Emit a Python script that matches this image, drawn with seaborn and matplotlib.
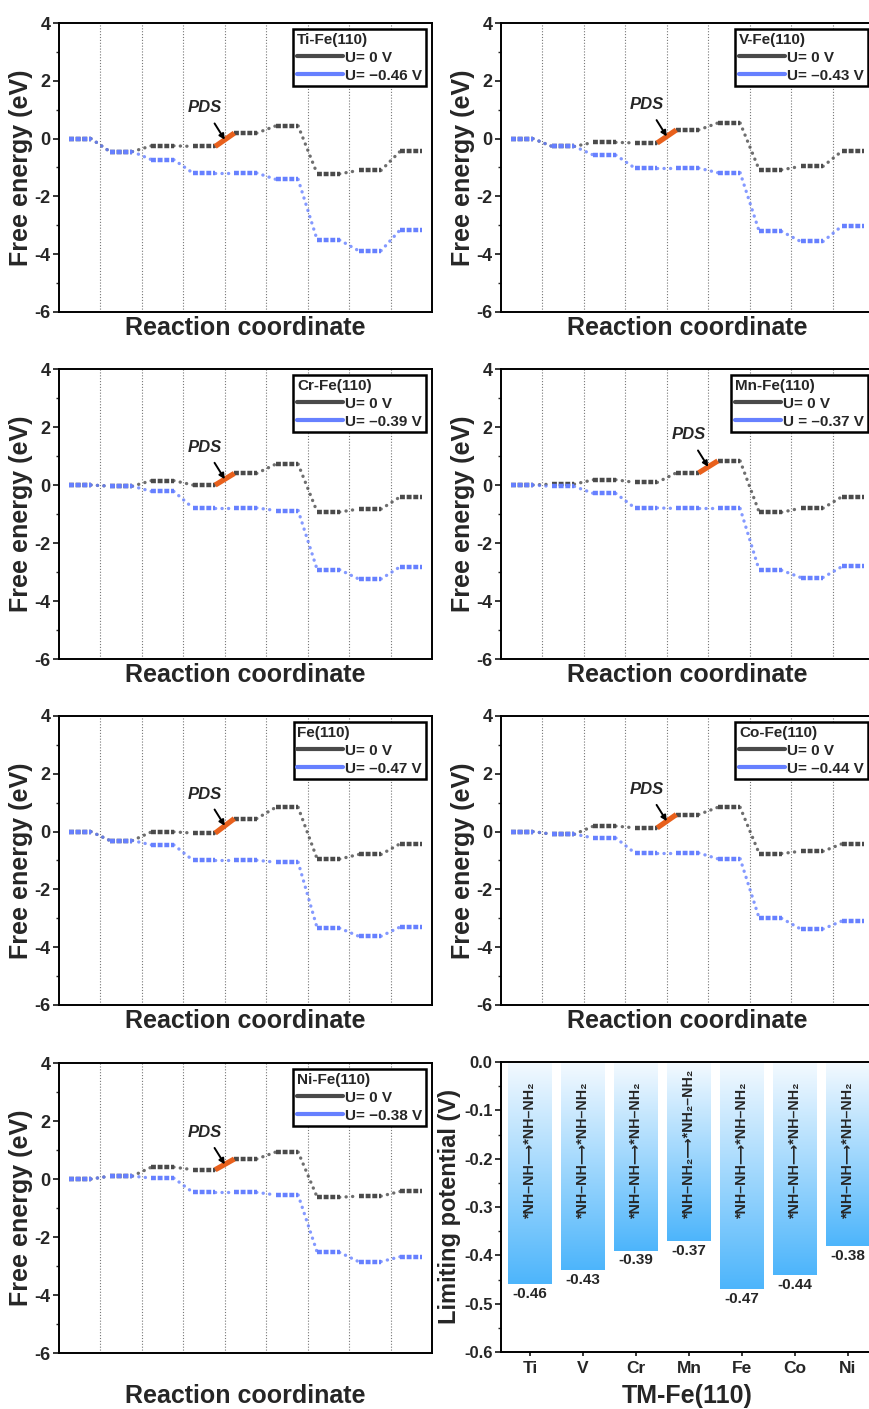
import numpy as np
import pandas as pd
import matplotlib
matplotlib.use("Agg")
import matplotlib.pyplot as plt
import seaborn as sns
from matplotlib.colors import LinearSegmentedColormap
from matplotlib.lines import Line2D
from matplotlib.ticker import MultipleLocator, FormatStrFormatter

# ---------------- data ----------------
steps = list(range(9))

ti_u0 = [0.00, -0.45, -0.25, -0.27, 0.19, 0.44, -1.22, -1.10, -0.44]
ti_ul = [0.00, -0.45, -0.73, -1.19, -1.19, -1.41, -3.51, -3.88, -3.16]
v_u0 = [0.00, -0.27, -0.13, -0.15, 0.30, 0.54, -1.08, -0.96, -0.43]
v_ul = [0.00, -0.27, -0.57, -1.02, -1.02, -1.18, -3.21, -3.56, -3.02]
cr_u0 = [0.00, -0.04, 0.15, 0.00, 0.40, 0.72, -0.93, -0.83, -0.41]
cr_ul = [0.00, -0.04, -0.22, -0.79, -0.79, -0.88, -2.92, -3.24, -2.82]
mn_u0 = [0.00, 0.03, 0.18, 0.09, 0.42, 0.83, -0.94, -0.80, -0.40]
mn_ul = [0.00, -0.05, -0.29, -0.79, -0.81, -0.81, -2.94, -3.19, -2.81]
fe_u0 = [0.00, -0.31, -0.01, -0.05, 0.45, 0.84, -0.95, -0.79, -0.42]
fe_ul = [0.00, -0.31, -0.46, -0.99, -0.99, -1.06, -3.34, -3.62, -3.30]
co_u0 = [0.00, -0.09, 0.19, 0.13, 0.59, 0.84, -0.76, -0.68, -0.42]
co_ul = [0.00, -0.09, -0.22, -0.74, -0.74, -0.94, -3.00, -3.37, -3.09]
ni_u0 = [0.00, 0.10, 0.41, 0.32, 0.69, 0.93, -0.63, -0.59, -0.43]
ni_ul = [0.00, 0.10, 0.03, -0.46, -0.46, -0.55, -2.53, -2.85, -2.68]

panel_titles = ["Ti-Fe(110)", "V-Fe(110)", "Cr-Fe(110)", "Mn-Fe(110)",
                "Fe(110)", "Co-Fe(110)", "Ni-Fe(110)"]
u0_labels = ["U= 0 V"] * 7
ul_labels = ["U= \u22120.46 V", "U= \u20130.43 V", "U= \u20130.39 V", "U = \u20130.37 V",
             "U= \u20130.47 V", "U= \u20130.44 V", "U= \u22120.38 V"]
pds_step = [3, 3, 3, 4, 3, 3, 3]   # PDS from this step to the next

tm_names = ["Ti", "V", "Cr", "Mn", "Fe", "Co", "Ni"]
limiting_potential = [-0.46, -0.43, -0.39, -0.37, -0.47, -0.44, -0.38]
pds_reaction = ["*NH\u2013NH\u27f6*NH\u2013NH\u2082"] * 3 + \
               ["*NH\u2013NH\u2082\u27f6*NH\u2082\u2013NH\u2082"] + \
               ["*NH\u2013NH\u27f6*NH\u2013NH\u2082"] * 3

# ---------------- style ----------------
sns.set_theme(style="ticks")
plt.rcParams["font.family"] = ["Liberation Sans", "DejaVu Sans"]
plt.rcParams["font.weight"] = "bold"
plt.rcParams["axes.labelweight"] = "bold"
plt.rcParams["axes.unicode_minus"] = False
plt.rcParams["xtick.direction"] = "out"
plt.rcParams["ytick.direction"] = "out"

C_U0 = "#4a4a4a"
C_UL = "#6680ff"
C_PDS = "#e8601c"
HW = 0.27

W, H = 869, 1409
fig = plt.figure(figsize=(W / 100, H / 100), dpi=100)


def add_axes(left_px, top_px, width_px, height_px):
    return fig.add_axes([left_px / W, 1 - (top_px + height_px) / H,
                         width_px / W, height_px / H])


rows = [(23, 289), (369, 290), (716, 289), (1063, 290)]
cols = [59, 501]
AXW = 373

series = [(ti_u0, ti_ul), (v_u0, v_ul), (cr_u0, cr_ul), (mn_u0, mn_ul),
          (fe_u0, fe_ul), (co_u0, co_ul), (ni_u0, ni_ul)]


def style_spines(ax):
    for s in ax.spines.values():
        s.set_linewidth(1.4)
        s.set_color("black")
        s.set_visible(True)


def draw_profile(ax, ys, color, zo):
    for i, y in enumerate(ys):
        ax.plot([steps[i] - HW, steps[i] + HW], [y, y], color=color, lw=3.2,
                ls=(0, (1.1, 0.4)), zorder=zo, solid_capstyle="butt")
        if i < len(ys) - 1:
            ax.plot([steps[i] + HW, steps[i + 1] - HW], [y, ys[i + 1]], color=color,
                    lw=2.4, ls=(0, (0.05, 1.9)), dash_capstyle="round",
                    alpha=0.8, zorder=zo)


for k in range(7):
    r, c = divmod(k, 2)
    top, hgt = rows[r]
    ax = add_axes(cols[c], top, AXW, hgt)
    u0, ul = series[k]
    for xv in np.arange(0.5, 8, 1.0):
        ax.axvline(xv, color="#777777", lw=0.8, ls=(0, (1, 1.6)), zorder=1)
    draw_profile(ax, u0, C_U0, 3)
    draw_profile(ax, ul, C_UL, 4)
    p = pds_step[k]
    x0, x1 = steps[p] + HW, steps[p + 1] - HW
    ax.plot([x0, x1], [u0[p], u0[p + 1]], color=C_PDS, lw=3.8, zorder=6,
            solid_capstyle="butt")
    xm, ym = (x0 + x1) / 2, (u0[p] + u0[p + 1]) / 2
    ax.annotate("PDS", xy=(xm, ym), xytext=(steps[p] + 0.02, ym + 1.1),
                fontsize=12, fontstyle="italic", fontweight="bold",
                ha="center", va="center", zorder=7,
                arrowprops=dict(arrowstyle="-|>", color="black", lw=1.4,
                                mutation_scale=8, shrinkA=4, shrinkB=0))
    ax.set_xlim(-0.5, 8.5)
    ax.set_ylim(-6, 4)
    ax.set_xticks([])
    ax.yaxis.set_major_locator(MultipleLocator(2))
    ax.yaxis.set_minor_locator(MultipleLocator(1))
    ax.tick_params(axis="y", which="major", labelsize=13, width=1.3, length=4, pad=2)
    ax.tick_params(axis="y", which="minor", width=1.0, length=2.5)
    for t in ax.get_yticklabels():
        t.set_fontweight("bold")
    ax.set_ylabel("Free energy (eV)", fontsize=18, fontweight="bold", labelpad=1)
    ax.set_xlabel("Reaction coordinate", fontsize=18, fontweight="bold",
                  labelpad=(22 if k == 6 else 3))
    style_spines(ax)
    handles = [Line2D([], [], color=C_U0, lw=3), Line2D([], [], color=C_UL, lw=3)]
    leg = ax.legend(handles, [u0_labels[k], ul_labels[k]], title=panel_titles[k],
                    loc="upper right", frameon=True, fancybox=False,
                    edgecolor="black", framealpha=1, handlelength=3.0,
                    borderpad=0.25, labelspacing=0.25, handletextpad=0.15,
                    borderaxespad=0.4, prop=dict(size=11, weight="bold"),
                    title_fontproperties=dict(size=11, weight="bold"))
    leg._legend_box.align = "left"
    leg.get_frame().set_linewidth(1.8)

# ---------------- bar panel ----------------
ax = add_axes(501, 1062, AXW, 290)
df = pd.DataFrame({"TM": tm_names, "U": limiting_potential})
sns.barplot(data=df, x="TM", y="U", ax=ax, color="white", width=0.83,
            saturation=1, edgecolor="none")
cmap = LinearSegmentedColormap.from_list("grad", ["#4db5fb", "#f4faff"])
grad = np.linspace(0, 1, 256).reshape(-1, 1)
for patch in ax.patches:
    bx, by = patch.get_x(), patch.get_y()
    bw, bh = patch.get_width(), patch.get_height()
    ylo, yhi = min(by, by + bh), max(by, by + bh)
    im = ax.imshow(grad, extent=[bx, bx + bw, ylo, yhi], origin="lower",
                   aspect="auto", cmap=cmap, zorder=2)
    im.set_clip_path(patch)
    patch.set_facecolor("none")
for i, (v, lab) in enumerate(zip(limiting_potential, pds_reaction)):
    ax.text(i, v - 0.006, f"{v:.2f}", ha="center", va="top", fontsize=11,
            fontweight="bold", zorder=5)
    ax.text(i, -0.322, lab, rotation=90, ha="center", va="bottom", fontsize=10.3,
            fontweight="bold", zorder=5)
ax.set_xlim(-0.55, 6.49)
ax.set_ylim(-0.6, 0.0)
ax.yaxis.set_major_locator(MultipleLocator(0.1))
ax.yaxis.set_minor_locator(MultipleLocator(0.05))
ax.yaxis.set_major_formatter(FormatStrFormatter("%.1f"))
ax.tick_params(axis="y", which="major", labelsize=12, width=1.3, length=4, pad=2)
ax.tick_params(axis="y", which="minor", width=1.0, length=2.5)
ax.tick_params(axis="x", which="major", labelsize=12.5, width=1.3, length=3)
for t in ax.get_yticklabels() + ax.get_xticklabels():
    t.set_fontweight("bold")
ax.set_ylabel("Limiting potential (V)", fontsize=17, fontweight="bold", labelpad=2)
ax.set_xlabel("TM-Fe(110)", fontsize=18, fontweight="bold", labelpad=6)
style_spines(ax)

fig.savefig("out.png", dpi=100)
